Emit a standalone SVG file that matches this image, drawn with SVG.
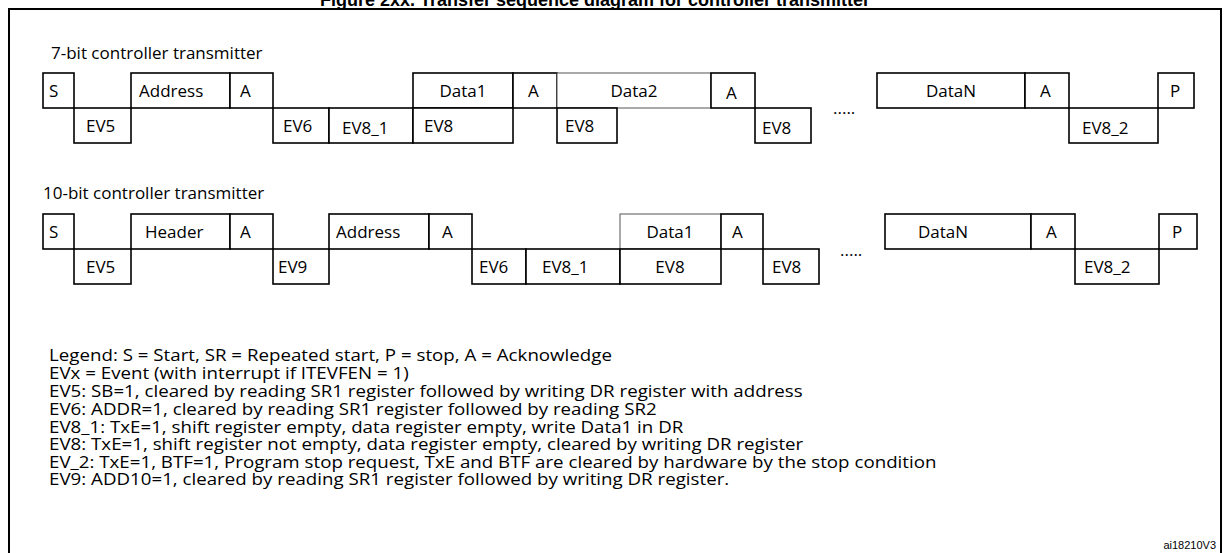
<svg xmlns="http://www.w3.org/2000/svg" width="1230" height="553" viewBox="0 0 1230 553">
<style>
.b{fill:#fff;stroke:#000;stroke-width:1.6}
.t{font-family:"Open Sans",Lato,sans-serif;font-size:17px;fill:#000}
.l{font-family:"Open Sans",Lato,sans-serif;font-size:16px;fill:#000}
.ti{font-family:"Liberation Sans",Arial,sans-serif;font-weight:bold;font-size:18px}
</style>
<rect width="1230" height="553" fill="#fff"/>
<text class="ti" x="595" y="6" text-anchor="middle">Figure 2xx. Transfer sequence diagram for controller transmitter</text>
<path d="M9 560 V9 H1221 V560" fill="none" stroke="#000" stroke-width="2"/>
<text class="t" x="51" y="59">7-bit controller transmitter</text>
<g id="row1">
<g id="s1"><rect class="b" x="43" y="73" width="31" height="35"/><text class="t" x="49" y="97">S</text></g>
<g id="ev5a"><rect class="b" x="74" y="108" width="57" height="35"/><text class="t" x="86" y="132">EV5</text></g>
<g id="addr1"><rect class="b" x="131" y="73" width="99" height="35"/><text class="t" x="139" y="97">Address</text></g>
<g id="a1"><rect class="b" x="230" y="73" width="43" height="35"/><text class="t" x="240" y="97">A</text></g>
<g id="ev6a"><rect class="b" x="273" y="108" width="56" height="35"/><text class="t" x="283" y="132">EV6</text></g>
<g id="ev81a"><rect class="b" x="329" y="108" width="84" height="35"/><text class="t" x="342" y="134">EV8_1</text></g>
<g id="d1a"><rect class="b" x="413" y="73" width="100" height="35"/><text class="t" x="463" y="97" text-anchor="middle">Data1</text></g>
<g id="ev8a"><rect class="b" x="413" y="108" width="100" height="35"/><text class="t" x="424" y="132">EV8</text></g>
<g id="a2"><rect class="b" x="513" y="73" width="44" height="35"/><text class="t" x="528" y="97">A</text></g>
<g id="d2"><rect class="b" x="557" y="73" width="154" height="35" style="stroke:#555;stroke-width:1"/><text class="t" x="634" y="97" text-anchor="middle">Data2</text></g>
<g id="ev8b"><rect class="b" x="557" y="108" width="60" height="35"/><text class="t" x="565" y="132">EV8</text></g>
<g id="a3"><rect class="b" x="711" y="73" width="44" height="35"/><text class="t" x="726" y="99">A</text></g>
<g id="ev8c"><rect class="b" x="755" y="108" width="56" height="35"/><text class="t" x="762" y="134">EV8</text></g>
<text class="t" x="833" y="114">.....</text>
<g id="dna"><rect class="b" x="877" y="73" width="148" height="35"/><text class="t" x="951" y="97" text-anchor="middle">DataN</text></g>
<g id="a4"><rect class="b" x="1025" y="73" width="44" height="35"/><text class="t" x="1040" y="97">A</text></g>
<g id="ev82a"><rect class="b" x="1069" y="108" width="89" height="35"/><text class="t" x="1082" y="134">EV8_2</text></g>
<g id="p1"><rect class="b" x="1158" y="73" width="36" height="35"/><text class="t" x="1170" y="97">P</text></g>
</g>
<text class="t" x="43" y="199">10-bit controller transmitter</text>
<g id="row2">
<g id="s2"><rect class="b" x="43" y="214" width="31" height="35"/><text class="t" x="49" y="238">S</text></g>
<g id="ev5b"><rect class="b" x="74" y="249" width="57" height="35"/><text class="t" x="86" y="273">EV5</text></g>
<g id="hdr"><rect class="b" x="131" y="214" width="99" height="35"/><text class="t" x="145" y="238">Header</text></g>
<g id="a5"><rect class="b" x="230" y="214" width="43" height="35"/><text class="t" x="240" y="238">A</text></g>
<g id="ev9"><rect class="b" x="273" y="249" width="56" height="35"/><text class="t" x="278" y="273">EV9</text></g>
<g id="addr2"><rect class="b" x="329" y="214" width="100" height="35"/><text class="t" x="336" y="238">Address</text></g>
<g id="a6"><rect class="b" x="429" y="214" width="43" height="35"/><text class="t" x="442" y="238">A</text></g>
<g id="ev6b"><rect class="b" x="472" y="249" width="54" height="35"/><text class="t" x="479" y="273">EV6</text></g>
<g id="ev81b"><rect class="b" x="526" y="249" width="94" height="35"/><text class="t" x="542" y="273">EV8_1</text></g>
<g id="d1b"><rect class="b" x="620" y="214" width="101" height="35" style="stroke:#555;stroke-width:1"/><text class="t" x="670" y="238" text-anchor="middle">Data1</text></g>
<g id="ev8d"><rect class="b" x="620" y="249" width="101" height="35"/><text class="t" x="670" y="273" text-anchor="middle">EV8</text></g>
<g id="a7"><rect class="b" x="721" y="214" width="42" height="35"/><text class="t" x="732" y="238">A</text></g>
<g id="ev8e"><rect class="b" x="763" y="249" width="56" height="35"/><text class="t" x="772" y="273">EV8</text></g>
<text class="t" x="840" y="256">.....</text>
<g id="dnb"><rect class="b" x="885" y="214" width="146" height="35"/><text class="t" x="918" y="238">DataN</text></g>
<g id="a8"><rect class="b" x="1031" y="214" width="44" height="35"/><text class="t" x="1046" y="238">A</text></g>
<g id="ev82b"><rect class="b" x="1075" y="249" width="84" height="35"/><text class="t" x="1084" y="273">EV8_2</text></g>
<g id="p2"><rect class="b" x="1159" y="214" width="38" height="35"/><text class="t" x="1172" y="238">P</text></g>
</g>
<g id="legend" class="l" transform="matrix(1.17,0,0,1,-8.3,0)">
<text x="49" y="361">Legend: S = Start, SR = Repeated start, P = stop, A = Acknowledge</text>
<text x="49" y="379">EVx = Event (with interrupt if ITEVFEN = 1)</text>
<text x="49" y="397">EV5: SB=1, cleared by reading SR1 register followed by writing DR register with address</text>
<text x="49" y="415">EV6: ADDR=1, cleared by reading SR1 register followed by reading SR2</text>
<text x="49" y="433">EV8_1: TxE=1, shift register empty, data register empty, write Data1 in DR</text>
<text x="49" y="450">EV8: TxE=1, shift register not empty, data register empty, cleared by writing DR register</text>
<text x="49" y="468">EV_2: TxE=1, BTF=1, Program stop request, TxE and BTF are cleared by hardware by the stop condition</text>
<text x="49" y="485">EV9: ADD10=1, cleared by reading SR1 register followed by writing DR register.</text>
</g>
<text x="1216" y="549" text-anchor="end" style="font-family:'Liberation Sans',Arial,sans-serif;font-size:11px">ai18210V3</text>
</svg>
